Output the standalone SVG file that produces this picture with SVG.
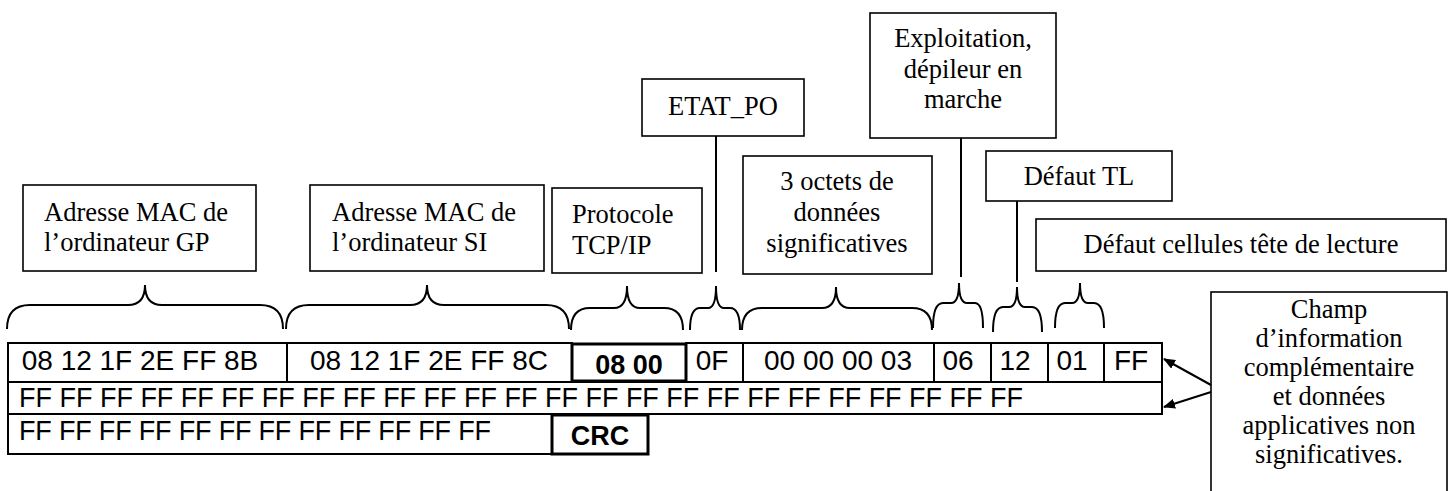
<svg xmlns="http://www.w3.org/2000/svg" width="1453" height="491" viewBox="0 0 1453 491">
<style>
.lbl{fill:#fff;stroke:#000;stroke-width:1.6}
.t{font-family:"Liberation Serif","Times New Roman",serif;font-size:26.5px;fill:#000}
.c{text-anchor:middle}
.cell{fill:#fff;stroke:#000;stroke-width:2}
.bold{fill:#fff;stroke:#000;stroke-width:3}
.a{font-family:"Liberation Sans",Arial,sans-serif;font-size:27px;fill:#000}
.a1{font-family:"Liberation Sans",Arial,sans-serif;font-size:28px;fill:#000;text-anchor:middle}
.ab{font-family:"Liberation Sans",Arial,sans-serif;font-size:27px;font-weight:bold;fill:#000;text-anchor:middle}
.br{fill:none;stroke:#000;stroke-width:2}
.ln{fill:none;stroke:#000;stroke-width:2}
</style>
<defs>
<marker id="ah" markerWidth="12" markerHeight="10" refX="11" refY="5" orient="auto" markerUnits="userSpaceOnUse">
<path d="M0,0 L12,5 L0,10 z" fill="#000"/>
</marker>
</defs>
<rect width="1453" height="491" fill="#fff"/>

<g id="label-mac-gp">
<rect class="lbl" x="23" y="185" width="233" height="86"/>
<text class="t" x="44" y="221">Adresse MAC de</text>
<text class="t" x="44" y="251">l’ordinateur GP</text>
</g>
<g id="label-mac-si">
<rect class="lbl" x="310" y="185" width="234" height="86"/>
<text class="t" x="332" y="221">Adresse MAC de</text>
<text class="t" x="332" y="251">l’ordinateur SI</text>
</g>
<g id="label-protocole">
<rect class="lbl" x="552" y="188" width="150" height="85"/>
<text class="t" x="572" y="223">Protocole</text>
<text class="t" x="572" y="254">TCP/IP</text>
</g>
<g id="label-etat">
<rect class="lbl" x="642" y="79" width="162" height="57"/>
<text class="t c" x="723" y="115">ETAT_PO</text>
</g>
<g id="label-3octets">
<rect class="lbl" x="743" y="156" width="189" height="118"/>
<text class="t c" x="837" y="190">3 octets de</text>
<text class="t c" x="837" y="221">données</text>
<text class="t c" x="837" y="252">significatives</text>
</g>
<g id="label-exploitation">
<rect class="lbl" x="870" y="13" width="186" height="125"/>
<text class="t c" x="963" y="47">Exploitation,</text>
<text class="t c" x="963" y="78">dépileur en</text>
<text class="t c" x="963" y="108">marche</text>
</g>
<g id="label-defaut-tl">
<rect class="lbl" x="986" y="151" width="186" height="50"/>
<text class="t c" x="1079" y="185">Défaut TL</text>
</g>
<g id="label-defaut-cellules">
<rect class="lbl" x="1036" y="219" width="410" height="52"/>
<text class="t c" x="1241" y="253">Défaut cellules tête de lecture</text>
</g>
<g id="label-champ">
<rect class="lbl" x="1211" y="292" width="236" height="210"/>
<text class="t c" x="1329" y="318">Champ</text>
<text class="t c" x="1329" y="347">d’information</text>
<text class="t c" x="1329" y="376">complémentaire</text>
<text class="t c" x="1329" y="405">et données</text>
<text class="t c" x="1329" y="434">applicatives non</text>
<text class="t c" x="1329" y="463">significatives.</text>
</g>

<g id="frame">
<rect class="cell" x="8" y="343" width="279" height="39"/>
<text class="a1" x="140" y="370">08 12 1F 2E FF 8B</text>
<rect class="cell" x="287" y="343" width="285" height="39"/>
<text class="a1" x="429" y="370">08 12 1F 2E FF 8C</text>
<rect class="cell" x="686" y="343" width="57" height="39"/>
<text class="a1" x="712" y="370">0F</text>
<rect class="cell" x="743" y="343" width="191" height="39"/>
<text class="a1" x="838" y="370">00 00 00 03</text>
<rect class="cell" x="934" y="343" width="57" height="39"/>
<text class="a1" x="958" y="370">06</text>
<rect class="cell" x="991" y="343" width="57" height="39"/>
<text class="a1" x="1015" y="370">12</text>
<rect class="cell" x="1048" y="343" width="56" height="39"/>
<text class="a1" x="1072" y="370">01</text>
<rect class="cell" x="1104" y="343" width="58" height="39"/>
<text class="a1" x="1131" y="370">FF</text>
<rect class="bold" x="572" y="344" width="114" height="37"/>
<text class="ab" x="629" y="374">08 00</text>
<rect class="cell" x="8" y="382" width="1154" height="32"/>
<text class="a" x="19" y="407" textLength="1004" lengthAdjust="spacing">FF FF FF FF FF FF FF FF FF FF FF FF FF FF FF FF FF FF FF FF FF FF FF FF FF</text>
<rect class="cell" x="8" y="414" width="640" height="40"/>
<text class="a" x="19" y="440" textLength="472" lengthAdjust="spacing">FF FF FF FF FF FF FF FF FF FF FF FF</text>
<rect class="bold" x="552" y="415" width="96" height="39"/>
<text class="ab" x="600" y="445">CRC</text>
</g>

<g id="connectors">
<path class="br" d="M7,329 Q7,305 30,305 L128,305 Q145,305 145,285 Q145,305 162,305 L260,305 Q283,305 283,329"/>
<path class="br" d="M286,329 Q286,305 309,305 L410,305 Q427,305 427,285 Q427,305 444,305 L546,305 Q569,305 569,329"/>
<path class="br" d="M571,330 Q571,308 590,308 L614,308 Q627,308 627,286 Q627,308 640,308 L664,308 Q683,308 683,330"/>
<path class="br" d="M690,330 Q690,308 700,308 L708,308 Q716,308 716,286 Q716,308 724,308 L730,308 Q740,308 740,330"/>
<path class="br" d="M742,330 Q742,308 762,308 L822,308 Q836,308 836,287 Q836,308 850,308 L912,308 Q932,308 932,330"/>
<path class="br" d="M933,328 Q933,303 943,303 L951,303 Q959,303 959,283 Q959,303 967,303 L975,303 Q983,303 983,328"/>
<path class="br" d="M993,332 Q993,307 1003,307 L1009,307 Q1017,307 1017,287 Q1017,307 1025,307 L1032,307 Q1042,307 1042,332"/>
<path class="br" d="M1055,328 Q1055,303 1065,303 L1072,303 Q1080,303 1080,283 Q1080,303 1088,303 L1094,303 Q1104,303 1104,328"/>
<line class="ln" x1="716" y1="136" x2="716" y2="272"/>
<line class="ln" x1="961" y1="138" x2="961" y2="277"/>
<line class="ln" x1="1017" y1="201" x2="1017" y2="282"/>
<line class="ln" x1="1211" y1="385" x2="1164" y2="359" marker-end="url(#ah)"/>
<line class="ln" x1="1211" y1="392" x2="1164" y2="407" marker-end="url(#ah)"/>
</g>
</svg>
